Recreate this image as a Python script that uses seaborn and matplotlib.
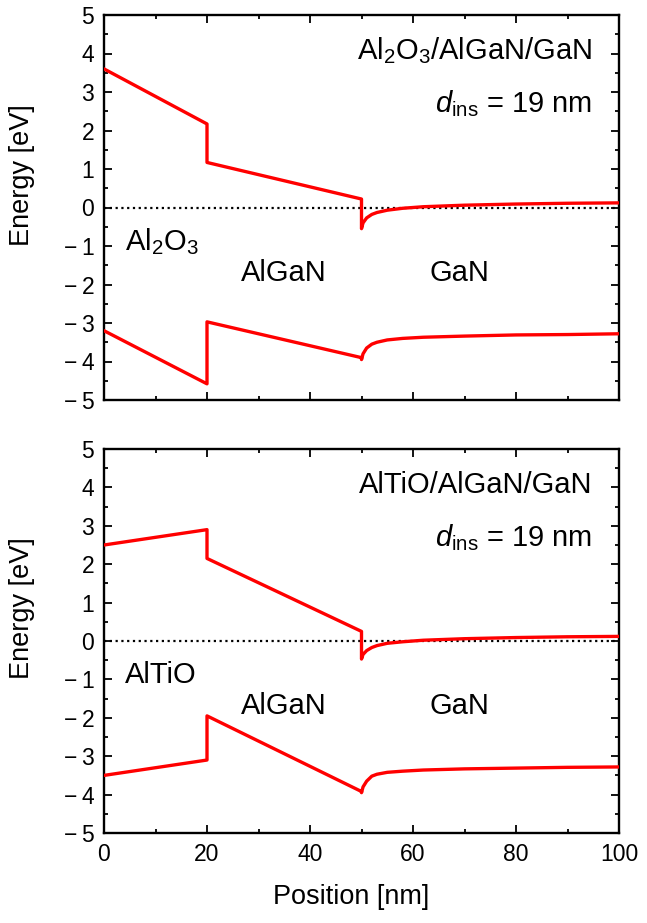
import matplotlib
matplotlib.use("Agg")
import matplotlib.pyplot as plt
from matplotlib.ticker import MultipleLocator, FuncFormatter
import seaborn as sns
import pandas as pd

# ---------------- data ----------------
x_ins = [0, 20]
x_algan = [20, 50]
x_gan = [50, 50.3, 51, 52, 53, 55, 58, 62, 70, 80, 90, 100]

# top panel: Al2O3/AlGaN/GaN
top_ins_cb = [3.6, 2.17]
top_ins_vb = [-3.2, -4.58]
top_algan_cb = [1.17, 0.22]
top_algan_vb = [-2.97, -3.9]
top_gan_cb = [-0.55, -0.40, -0.27, -0.18, -0.13, -0.07, -0.02, 0.02, 0.06, 0.09, 0.11, 0.12]
top_gan_vb = [-3.95, -3.80, -3.65, -3.55, -3.50, -3.44, -3.40, -3.37, -3.34, -3.31, -3.30, -3.28]

# bottom panel: AlTiO/AlGaN/GaN
bot_ins_cb = [2.5, 2.9]
bot_ins_vb = [-3.5, -3.1]
bot_algan_cb = [2.15, 0.25]
bot_algan_vb = [-1.95, -3.92]
bot_gan_cb = [-0.47, -0.35, -0.25, -0.17, -0.12, -0.06, -0.02, 0.02, 0.06, 0.09, 0.11, 0.12]
bot_gan_vb = [-3.95, -3.80, -3.65, -3.52, -3.47, -3.42, -3.39, -3.36, -3.33, -3.31, -3.29, -3.28]

fermi_x = [0, 100]
fermi_y = [0, 0]

panels = [
    dict(title="Al$_2$O$_3$/AlGaN/GaN", ins="Al$_2$O$_3$",
         ins_cb=top_ins_cb, ins_vb=top_ins_vb, algan_cb=top_algan_cb, algan_vb=top_algan_vb,
         gan_cb=top_gan_cb, gan_vb=top_gan_vb),
    dict(title="AlTiO/AlGaN/GaN", ins="AlTiO",
         ins_cb=bot_ins_cb, ins_vb=bot_ins_vb, algan_cb=bot_algan_cb, algan_vb=bot_algan_vb,
         gan_cb=bot_gan_cb, gan_vb=bot_gan_vb),
]

# ---------------- style ----------------
sns.set_theme(style="ticks")
plt.rcParams["font.family"] = ["Liberation Sans", "DejaVu Sans"]
plt.rcParams["mathtext.fontset"] = "custom"
plt.rcParams["mathtext.rm"] = "Liberation Sans"
plt.rcParams["mathtext.it"] = "Liberation Sans:italic"
plt.rcParams["mathtext.bf"] = "Liberation Sans:bold"
for k in ["text.color", "axes.labelcolor", "xtick.color", "ytick.color", "axes.edgecolor"]:
    plt.rcParams[k] = "black"

fig = plt.figure(figsize=(6.47, 9.23), dpi=100)
W, H = 647, 923
ax_top = fig.add_axes([104 / W, 1 - 400 / H, 515 / W, 385 / H])
ax_bot = fig.add_axes([104 / W, 1 - 833 / H, 515 / W, 384 / H])

red = "#ff0000"
fs_tick = 16.5
fs_label = 19.5
fs_text = 21


def fmt(v, pos):
    v = int(round(v))
    return f"\u2212\u2009{abs(v)}" if v < 0 else f"{v}"


for ax, p, show_x in [(ax_top, panels[0], False), (ax_bot, panels[1], True)]:
    cb_x = x_ins + x_algan + x_gan
    cb_y = p["ins_cb"] + p["algan_cb"] + p["gan_cb"]
    vb_y = p["ins_vb"] + p["algan_vb"] + p["gan_vb"]
    df_cb = pd.DataFrame({"x": cb_x, "E": cb_y})
    df_vb = pd.DataFrame({"x": cb_x, "E": vb_y})
    df_f = pd.DataFrame({"x": fermi_x, "E": fermi_y})

    sns.lineplot(data=df_f, x="x", y="E", ax=ax, color="black", lw=1.6,
                 linestyle=(0, (1, 1.6)), estimator=None, sort=False, zorder=2)
    sns.lineplot(data=df_cb, x="x", y="E", ax=ax, color=red, lw=2.4,
                 estimator=None, sort=False, zorder=3)
    sns.lineplot(data=df_vb, x="x", y="E", ax=ax, color=red, lw=2.4,
                 estimator=None, sort=False, zorder=3)

    ax.set_xlim(0, 100)
    ax.set_ylim(-5, 5)
    ax.xaxis.set_major_locator(MultipleLocator(20))
    ax.xaxis.set_minor_locator(MultipleLocator(10))
    ax.yaxis.set_major_locator(MultipleLocator(1))
    ax.yaxis.set_minor_locator(MultipleLocator(0.5))
    ax.yaxis.set_major_formatter(FuncFormatter(fmt))
    ax.tick_params(which="both", direction="in", top=True, right=True,
                   width=1.3, color="black", labelsize=fs_tick, pad=7)
    ax.tick_params(which="major", length=6)
    ax.tick_params(which="minor", length=3)
    for s in ax.spines.values():
        s.set_linewidth(1.7)
        s.set_color("black")
    ax.set_ylabel("Energy [eV]", fontsize=fs_label)
    ax.yaxis.set_label_coords(-0.159, 0.585)
    ax.yaxis.label.set_va("center")
    if show_x:
        ax.set_xlabel("Position [nm]", fontsize=fs_label)
        ax.xaxis.set_label_coords(0.48, -0.167)
        ax.xaxis.label.set_va("center")
    else:
        ax.set_xlabel("")
        ax.tick_params(axis="x", labelbottom=False)

    ax.text(94.8, 3.86, p["title"], ha="right", va="baseline", fontsize=fs_text)
    ax.text(94.8, 2.47, r"$d_{\mathrm{ins}}$ = 19 nm", ha="right", va="baseline", fontsize=fs_text)
    ax.text(4.0, -1.1, p["ins"], ha="left", va="baseline", fontsize=fs_text)
    ax.text(35.0, -1.9, "AlGaN", ha="center", va="baseline", fontsize=fs_text)
    ax.text(69.0, -1.9, "GaN", ha="center", va="baseline", fontsize=fs_text)

fig.savefig("out.png", dpi=100)
